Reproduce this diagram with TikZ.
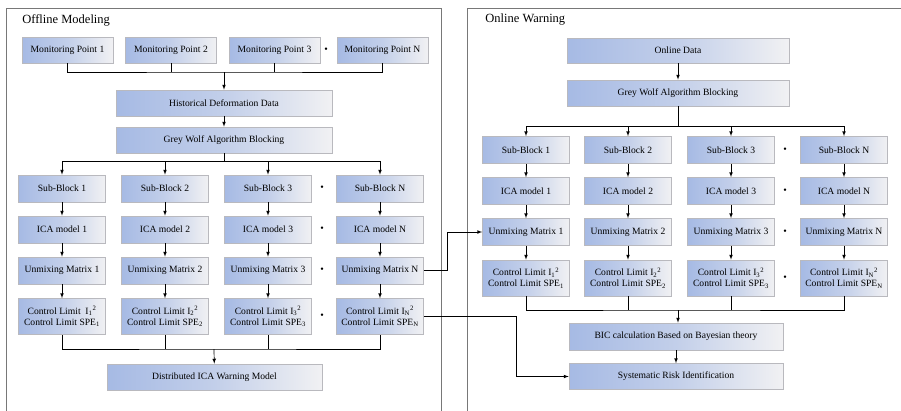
\documentclass[tikz,border=0pt]{standalone}
\usepackage{fontspec}
\setmainfont{Liberation Serif}

\definecolor{boxblue}{RGB}{166,186,228}
\definecolor{boxgrey}{RGB}{241,241,243}
\definecolor{boxline}{RGB}{185,185,190}
\definecolor{panelline}{RGB}{120,120,120}

\tikzset{
  blk/.style={draw=boxline, left color=boxblue, right color=boxgrey, middle color=boxblue!62!boxgrey,
    minimum height=27pt, inner sep=1pt, align=center, font=\fontsize{9.6}{11}\selectfont},
  mp/.style={blk, minimum width=91pt, minimum height=26pt},
  cblk/.style={blk, minimum width=87pt},
  lim/.style={cblk, minimum height=36pt},
  wide/.style={blk, minimum width=216pt, minimum height=26pt},
  dt/.style={font=\fontsize{10}{10}\selectfont, inner sep=0pt},
  panel/.style={draw=panelline, line width=0.8pt},
  ttl/.style={font=\fontsize{12.5}{14}\selectfont, anchor=west, inner sep=0pt}
}

\begin{document}
\begin{tikzpicture}
[x=1pt, y=-1pt, node distance=41pt, >=latex, line width=0.7pt]

\clip (0,0) rectangle (901,410);
\draw[panel] (6,8) rectangle (441,430);
\draw[panel] (467,8) rectangle (920,430);

\node[ttl] (off) at (22,20) {Offline Modeling};
\node[ttl] (on) at (485,20) {Online Warning};

% offline modeling
\node[mp] (mp1) at (67.5,50) {Monitoring Point 1};
\node[mp, right of=mp1, node distance=103.5pt] (mp2) {Monitoring Point 2};
\node[mp, right of=mp2, node distance=103.5pt] (mp3) {Monitoring Point 3};
\node[dt, right of=mp3, node distance=51.5pt] (dmp) {\textbullet};
\node[mp, right of=mp3, node distance=108pt] (mpN) {Monitoring Point N};

\node[wide] (hdd) at (224,103) {Historical Deformation Data};
\node[wide, below of=hdd, node distance=37pt] (mgw) {Grey Wolf Algorithm Blocking};

\coordinate (mj1) at (224,72);
\coordinate (mj2) at (224,161);
\draw (mp1.south) |- (mj1) -| (mpN.south);
\draw (mp2.south) -- (mp2.south |- mj1);
\draw (mp3.south) -- (mp3.south |- mj1);
\draw[->] (mj1) -- (hdd);
\draw[->] (hdd) -- (mgw);
\draw (mgw) -- (mj2);

\node[cblk] (msb1) at (62,188.5) {Sub-Block 1};
\node[cblk, right of=msb1, node distance=103pt] (msb2) {Sub-Block 2};
\node[cblk, right of=msb2, node distance=103pt] (msb3) {Sub-Block 3};
\node[cblk, right of=msb3, node distance=112pt] (msbN) {Sub-Block N};

\node[cblk, below of=msb1] (mica1) {ICA model 1};
\node[cblk, below of=msb2] (mica2) {ICA model 2};
\node[cblk, below of=msb3] (mica3) {ICA model 3};
\node[cblk, below of=msbN] (micaN) {ICA model N};

\node[cblk, below of=mica1] (mum1) {Unmixing Matrix 1};
\node[cblk, below of=mica2] (mum2) {Unmixing Matrix 2};
\node[cblk, below of=mica3] (mum3) {Unmixing Matrix 3};
\node[cblk, below of=micaN] (mumN) {Unmixing Matrix N};

\node[lim, below of=mum1, node distance=46pt] (mcl1) {Control Limit~ I\textsubscript{1}\textsuperscript{2}\\Control Limit SPE\textsubscript{1}};
\node[lim, below of=mum2, node distance=46pt] (mcl2) {Control Limit I\textsubscript{2}\textsuperscript{2}\\Control Limit SPE\textsubscript{2}};
\node[lim, below of=mum3, node distance=46pt] (mcl3) {Control Limit I\textsubscript{3}\textsuperscript{2}\\Control Limit SPE\textsubscript{3}};
\node[lim, below of=mumN, node distance=46pt] (mclN) {Control Limit I\textsubscript{N}\textsuperscript{2}\\Control Limit SPE\textsubscript{N}};

\node[dt, right of=msb3, node distance=54pt] (mds) {\textbullet};
\node[dt, right of=mica3, node distance=54pt] (mdi) {\textbullet};
\node[dt, right of=mum3, node distance=54pt] (mdu) {\textbullet};
\node[dt, right of=mcl3, node distance=54pt] (mdc) {\textbullet};

\draw[->] (mj2) -| (msb1);
\draw[->] (mj2) -| (msb2);
\draw[->] (mj2) -| (msb3);
\draw[->] (mj2) -| (msbN);

\draw[->] (msb1) edge (mica1) (mica1) edge (mum1) (mum1) edge (mcl1);
\draw[->] (msb2) edge (mica2) (mica2) edge (mum2) (mum2) edge (mcl2);
\draw[->] (msb3) edge (mica3) (mica3) edge (mum3) (mum3) edge (mcl3);
\draw[->] (msbN) edge (micaN) (micaN) edge (mumN) (mumN) edge (mclN);

\node[wide, minimum width=215pt] (dica) at (214.5,377) {Distributed ICA Warning Model};
\coordinate (mj3) at (214,349);
\draw (mcl1.south) |- (mj3) -| (mclN.south);
\draw (mcl2.south) -- (mcl2.south |- mj3);
\draw (mcl3.south) -- (mcl3.south |- mj3);
\draw[->] (mj3) -- (dica);

% online warning
\node[wide, minimum width=222pt, minimum height=25pt] (od) at (678,50.5) {Online Data};
\node[wide, minimum width=222pt, below of=od, node distance=42.5pt] (wgw) {Grey Wolf Algorithm Blocking};
\draw[->] (od) -- (wgw);
\coordinate (wj1) at (678,126);
\draw (wgw) -- (wj1);

\node[cblk] (wsb1) at (526,150) {Sub-Block 1};
\node[cblk, right of=wsb1, node distance=102pt] (wsb2) {Sub-Block 2};
\node[cblk, right of=wsb2, node distance=103pt] (wsb3) {Sub-Block 3};
\node[cblk, right of=wsb3, node distance=113pt] (wsbN) {Sub-Block N};

\node[cblk, below of=wsb1] (wica1) {ICA model 1};
\node[cblk, below of=wsb2] (wica2) {ICA model 2};
\node[cblk, below of=wsb3] (wica3) {ICA model 3};
\node[cblk, below of=wsbN] (wicaN) {ICA model N};

\node[cblk, below of=wica1] (wum1) {Unmixing Matrix 1};
\node[cblk, below of=wica2] (wum2) {Unmixing Matrix 2};
\node[cblk, below of=wica3] (wum3) {Unmixing Matrix 3};
\node[cblk, below of=wicaN] (wumN) {Unmixing Matrix N};

\node[lim, below of=wum1, node distance=46pt] (wcl1) {Control Limit I\textsubscript{1}\textsuperscript{2}\\Control Limit SPE\textsubscript{1}};
\node[lim, below of=wum2, node distance=46pt] (wcl2) {Control Limit I\textsubscript{2}\textsuperscript{2}\\Control Limit SPE\textsubscript{2}};
\node[lim, below of=wum3, node distance=46pt] (wcl3) {Control Limit I\textsubscript{3}\textsuperscript{2}\\Control Limit SPE\textsubscript{3}};
\node[lim, below of=wumN, node distance=46pt] (wclN) {Control Limit I\textsubscript{N}\textsuperscript{2}\\Control Limit SPE\textsubscript{N}};

\node[dt, right of=wsb3, node distance=54pt] (wds) {\textbullet};
\node[dt, right of=wica3, node distance=54pt] (wdi) {\textbullet};
\node[dt, right of=wum3, node distance=54pt] (wdu) {\textbullet};
\node[dt, right of=wcl3, node distance=54pt] (wdc) {\textbullet};

\draw[->] (wj1) -| (wsb1);
\draw[->] (wj1) -| (wsb2);
\draw[->] (wj1) -| (wsb3);
\draw[->] (wj1) -| (wsbN);

\draw[->] (wsb1) edge (wica1) (wica1) edge (wum1) (wum1) edge (wcl1);
\draw[->] (wsb2) edge (wica2) (wica2) edge (wum2) (wum2) edge (wcl2);
\draw[->] (wsb3) edge (wica3) (wica3) edge (wum3) (wum3) edge (wcl3);
\draw[->] (wsbN) edge (wicaN) (wicaN) edge (wumN) (wumN) edge (wclN);

\node[wide, minimum width=214pt, minimum height=27pt] (bic) at (676,336.5) {BIC calculation Based on Bayesian theory};
\node[wide, minimum width=214pt, below of=bic, node distance=40pt] (sri) {Systematic Risk Identification};
\coordinate (wj2) at (678,310);
\draw (wcl1.south) |- (wj2) -| (wclN.south);
\draw (wcl2.south) -- (wcl2.south |- wj2);
\draw (wcl3.south) -- (wcl3.south |- wj2);
\draw[->] (wj2) -- (wj2 |- bic.north);
\draw[->] (bic) -- (sri);

% offline to online
\draw[->] (mumN.east) -- ++(23,0) |- (wum1.west);
\draw[->] (mclN.east) -- ++(92,0) |- (sri.west);

\end{tikzpicture}
\end{document}
